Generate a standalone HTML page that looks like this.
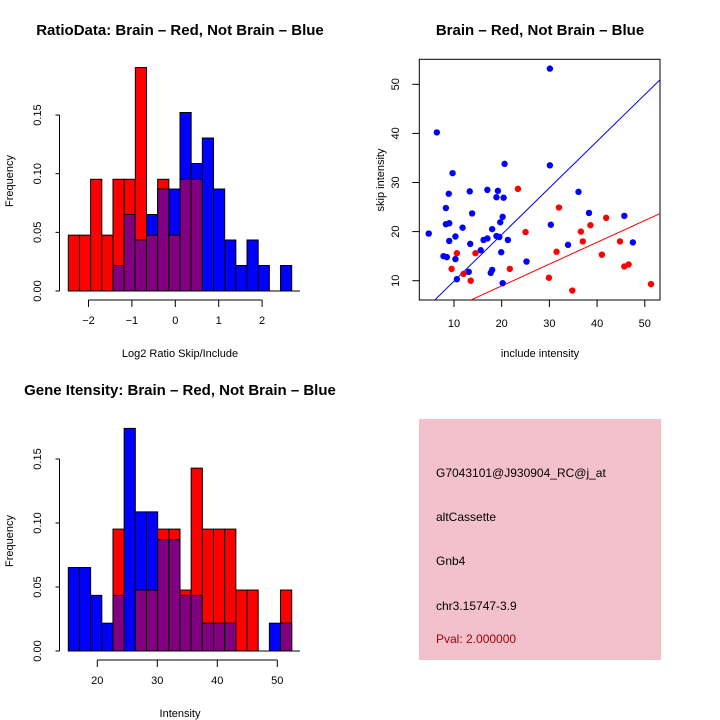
<!DOCTYPE html>
<html><head><meta charset="utf-8"><style>
html,body{margin:0;padding:0;background:#fff}
svg{display:block;font-family:"Liberation Sans",sans-serif}
</style></head><body>
<svg id="c" width="720" height="720" viewBox="0 0 720 720" xmlns="http://www.w3.org/2000/svg">
<rect x="419" y="419" width="242" height="241" fill="#f3c1cc"/>
<text x="436" y="477" font-size="12">G7043101@J930904_RC@j_at</text>
<text x="436" y="521" font-size="12">altCassette</text>
<text x="436" y="565" font-size="12">Gnb4</text>
<text x="436" y="610" font-size="12">chr3.15747-3.9</text>
<text x="436" y="643" font-size="12" fill="#a00000">Pval: 2.000000</text>
</svg>
<script>
// Top-left histogram: counts per bin (bins of 0.25 from -2.5)
const ratioRed  = [1,1,2,1,2,2,4,1,2,1,2,2,0,0,0,0,0,0,0,0];
const ratioBlue = [0,0,0,0,1,3,2,3,4,4,7,5,6,4,2,1,2,1,0,1];
const ratioTicksX = [-2,-1,0,1,2];
const freqTicks1 = [0,0.05,0.10,0.15];
// Bottom-left histogram: counts per bin
const intRed  = [0,0,0,0,2,0,1,1,2,2,1,3,2,2,2,1,1,0,0,1];
const intBlue = [3,3,2,1,2,8,5,5,4,4,2,2,1,1,1,0,0,0,1,1];
const intTicksX = [20,30,40,50];
const freqTicks2 = [0,0.05,0.10,0.15];
// Scatter
const blueX=[30.1,6.4,20.6,30.1,9.7,8.9,13.3,17.0,19.2,18.9,20.4,36.1,8.3,13.8,38.3,45.7,20.2,19.7,9.0,8.3,30.3,11.8,18.0,4.7,10.3,18.9,19.5,16.2,17.0,9.0,21.3,13.4,33.9,47.5,15.6,19.9,7.8,8.5,10.3,25.2,18.0,17.7,13.1,10.6,20.2];
const blueY=[53.2,40.2,33.8,33.5,31.9,27.7,28.2,28.5,28.3,27.0,26.9,28.1,24.8,23.7,23.8,23.2,23.0,21.9,21.7,21.5,21.4,20.8,20.5,19.6,19.0,19.1,18.9,18.3,18.6,18.1,18.3,17.5,17.3,17.8,16.2,15.8,15.0,14.8,14.4,13.9,12.2,11.6,11.8,10.3,9.5];
const redX=[23.4,32.0,41.9,38.6,25.0,36.6,37.0,44.8,31.5,10.6,14.5,41.0,46.6,45.7,9.5,21.7,12.0,13.5,29.9,34.8,51.3];
const redY=[28.7,24.9,22.8,21.3,19.9,20.0,18.0,18.0,15.9,15.6,15.6,15.3,13.3,12.9,12.4,12.4,11.4,10.0,10.6,8.0,9.3];
const lineBlue=[0.4,0.95]; // intercept, slope
const lineRed=[0.06,0.444];
const scTicksX=[10,20,30,40,50];
const scTicksY=[10,20,30,40,50];

const svg=document.getElementById('c');
const NS='http://www.w3.org/2000/svg';
function mk(t,a,name,parent){const e=document.createElementNS(NS,t);for(const k in a)e.setAttribute(k,a[k]);


(parent||svg).appendChild(e);return e;}
function txt(x,y,s,size,name,opts){const e=mk('text',Object.assign({x:x,y:y,'font-size':size,'text-anchor':'middle'},opts||{}),name);e.textContent=s;return e;}
const PURPLE='#800080';

function hist(red,blue,x0,binW,base,perUnitY,nR,nB,name){
  for(let i=0;i<red.length;i++){
    const x=x0+i*binW, hr=red[i]/nR*perUnitY, hb=blue[i]/nB*perUnitY;
    const hi=Math.max(hr,hb), lo=Math.min(hr,hb);
    if(hi>0) mk('rect',{x:x,y:base-hi,width:binW,height:hi,fill:hr>=hb?'#ff0000':'#0000ff',stroke:'#000','stroke-width':1},name+'-bar-'+i);
    if(lo>0) mk('rect',{x:x,y:base-lo,width:binW,height:lo,fill:PURPLE,stroke:'#000','stroke-width':1},name+'-overlap-'+i);
  }
  mk('line',{x1:x0,y1:base,x2:300,y2:base,stroke:'#000'},name+'-baseline');
}
function yaxis(ticks,base,perUnitY,name){
  const ax=59.5, top=base-ticks[ticks.length-1]*perUnitY;
  mk('line',{x1:ax,y1:base,x2:ax,y2:top,stroke:'#000'},name+'-y-axis');
  ticks.forEach(t=>{const y=base-t*perUnitY;
    mk('line',{x1:ax-4,y1:y,x2:ax,y2:y,stroke:'#000'},name+'-y-tick');
    txt(0,0,t.toFixed(2),11,name+'-y-tick-label',{transform:'translate(41,'+y+') rotate(-90)'});});
  txt(0,0,'Frequency',11,name+'-y-title',{transform:'translate(13,'+(base-110)+') rotate(-90)'});
}
function xaxis(ticks,xf,y,name){
  const a=xf(ticks[0]),b=xf(ticks[ticks.length-1]);
  mk('line',{x1:a,y1:y,x2:b,y2:y,stroke:'#000'},name+'-x-axis');
  ticks.forEach(t=>{const x=xf(t);mk('line',{x1:x,y1:y,x2:x,y2:y+7,stroke:'#000'},name+'-x-tick');
    txt(x,y+24,String(t).replace('-','\u2212'),11,name+'-x-tick-label');});
}
// Top-left
const TLbase=291, TLy=1173;
hist(ratioRed,ratioBlue,68.3,11.17,TLbase,TLy,21,46,'ratio');
yaxis(freqTicks1,TLbase,TLy,'ratio');
xaxis(ratioTicksX,v=>175.3+v*43.4,300,'ratio');
txt(180,357,'Log2 Ratio Skip/Include',11,'ratio-x-title');
txt(180,35,'RatioData: Brain \u2013 Red, Not Brain \u2013 Blue',15,'ratio-title',{'font-weight':'bold'});
// Bottom-left
const BLbase=651, BLy=1280;
hist(intRed,intBlue,68.3,11.17,BLbase,BLy,21,46,'intensity');
yaxis(freqTicks2,BLbase,BLy,'intensity');
xaxis(intTicksX,v=>97.3+(v-20)*6,660,'intensity');
txt(180,717,'Intensity',11,'intensity-x-title');
txt(180,395,'Gene Itensity: Brain \u2013 Red, Not Brain \u2013 Blue',15,'intensity-title',{'font-weight':'bold'});
// Scatter
const sx=v=>454+(v-10)*4.77, sy=v=>280.7-(v-10)*4.91;
const L=419.3,R=660,T=59.3,B=300;
mk('rect',{x:L,y:T,width:R-L,height:B-T,fill:'none',stroke:'#000'},'scatter-frame');
mk('clipPath',{id:'cp'},'scatter-clip');
mk('rect',{x:L,y:T,width:R-L,height:B-T},'scatter-clip-rect',document.getElementById('cp'));
const g=mk('g',{'clip-path':'url(#cp)'},'scatter-plot-area');
function fitLine(p,col,name){const x1=2.7,x2=53.2;
  mk('line',{x1:sx(x1),y1:sy(p[0]+p[1]*x1),x2:sx(x2),y2:sy(p[0]+p[1]*x2),stroke:col,'stroke-width':1},name,g);}
fitLine(lineBlue,'#0000ff','blue-fit-line');
fitLine(lineRed,'#ff0000','red-fit-line');
blueX.forEach((v,i)=>mk('circle',{cx:sx(v),cy:sy(blueY[i]),r:3.2,fill:'#0000ff'},'blue-point',g));
redX.forEach((v,i)=>mk('circle',{cx:sx(v),cy:sy(redY[i]),r:3.2,fill:'#ff0000'},'red-point',g));
scTicksX.forEach(t=>{const x=sx(t);mk('line',{x1:x,y1:B,x2:x,y2:B+7,stroke:'#000'},'scatter-x-tick');txt(x,B+27,String(t),11,'scatter-x-tick-label');});
scTicksY.forEach(t=>{const y=sy(t);mk('line',{x1:L-7,y1:y,x2:L,y2:y,stroke:'#000'},'scatter-y-tick');txt(0,0,String(t),11,'scatter-y-tick-label',{transform:'translate(399,'+y+') rotate(-90)'});});
txt(540,357,'include intensity',11,'scatter-x-title');
txt(0,0,'skip intensity',11,'scatter-y-title',{transform:'translate(384,180) rotate(-90)'});
txt(540,35,'Brain \u2013 Red, Not Brain \u2013 Blue',15,'scatter-title',{'font-weight':'bold'});
</script>
</body></html>
